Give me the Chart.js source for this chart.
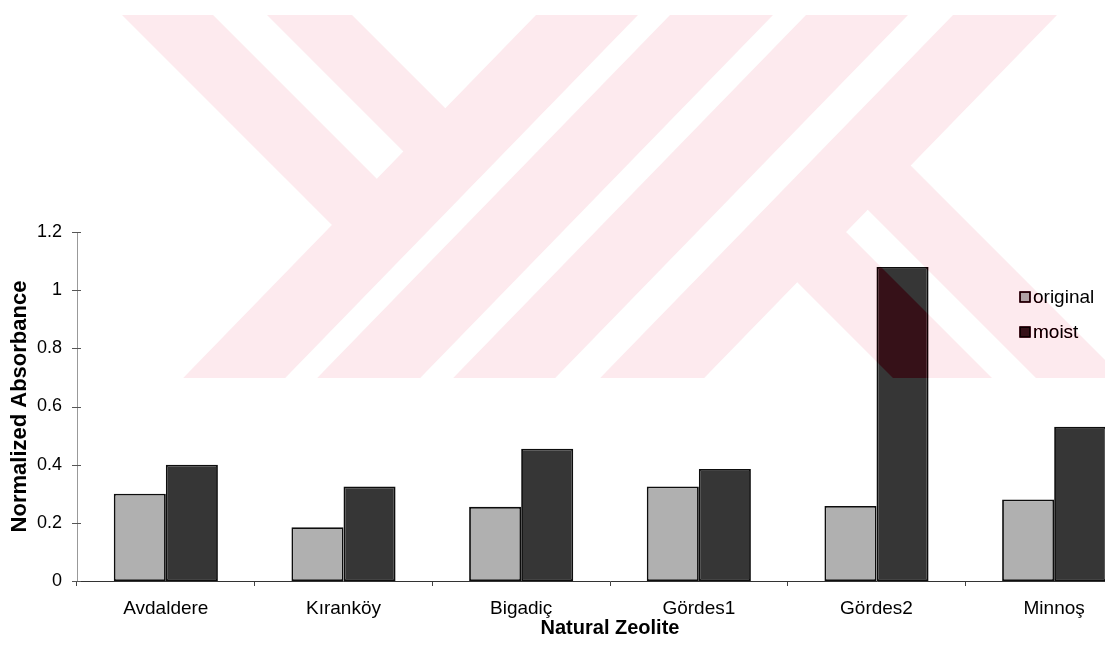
<!DOCTYPE html>
<html>
<head>
<meta charset="utf-8">
<title>Normalized Absorbance of Natural Zeolites</title>
<script src="https://cdn.jsdelivr.net/npm/chart.js@4.4.1/dist/chart.umd.min.js"></script>
<style>
  html, body { margin: 0; padding: 0; background: #fff; overflow: hidden; width: 1105px; height: 658px; }
  #wrap { position: absolute; left: 0; top: 0; width: 1150px; height: 658px; }
</style>
</head>
<body>
<div id="wrap"><canvas id="chart" width="1150" height="658"></canvas></div>
<script>
// ---- data ----
const categories = ['Avdaldere', 'Kıranköy', 'Bigadiç', 'Gördes1', 'Gördes2', 'Minnoş'];
const seriesNames = ['original', 'moist'];
const originalValues = [0.30, 0.185, 0.255, 0.325, 0.258, 0.28];
const moistValues = [0.40, 0.325, 0.455, 0.385, 1.08, 0.53];
const yTickValues = [0, 0.2, 0.4, 0.6, 0.8, 1, 1.2];
const yTickLabels = ['0', '0.2', '0.4', '0.6', '0.8', '1', '1.2'];
const xTitle = 'Natural Zeolite';
const yTitle = 'Normalized Absorbance';

// ---- styling ----
const FONT = '"Liberation Sans", Arial, Helvetica, sans-serif';
const fills = ['#b0b0b0', '#363636'];

// Pale background emblem: rising stripes with two arms on the left and two legs on the right
const MARK_TOP = 15, MARK_BOTTOM = 378, LEAN = 0.972;
const risingStripes = [[536, 638], [670, 773], [806, 908], [953, 1057]];
const leftArms = [[107, 198], [252, 337]];
const rightLegs = [[515, 614], [658, 745]];

function emblemPath(ctx) {
  const h = MARK_BOTTOM - MARK_TOP;
  ctx.beginPath();
  for (const [a, b] of risingStripes) {
    ctx.moveTo(a, MARK_TOP);
    ctx.lineTo(b, MARK_TOP);
    ctx.lineTo(b - LEAN * h, MARK_BOTTOM);
    ctx.lineTo(a - LEAN * h, MARK_BOTTOM);
    ctx.closePath();
  }
  // point where a falling edge (x - y = c) meets a rising stripe edge
  const meet = (edgeTop, c) => {
    const y = (edgeTop + LEAN * MARK_TOP - c) / (1 + LEAN);
    return [y + c, y];
  };
  const firstEdge = risingStripes[0][0];
  for (const [c0, c1] of leftArms) {
    const p0 = meet(firstEdge, c0), p1 = meet(firstEdge, c1);
    ctx.moveTo(c0 + MARK_TOP, MARK_TOP);
    ctx.lineTo(c1 + MARK_TOP, MARK_TOP);
    ctx.lineTo(p1[0], p1[1]);
    ctx.lineTo(p0[0], p0[1]);
    ctx.closePath();
  }
  const lastEdge = risingStripes[risingStripes.length - 1][1];
  for (const [c0, c1] of rightLegs) {
    const p0 = meet(lastEdge, c0), p1 = meet(lastEdge, c1);
    ctx.moveTo(p1[0], p1[1]);
    ctx.lineTo(c1 + MARK_BOTTOM, MARK_BOTTOM);
    ctx.lineTo(c0 + MARK_BOTTOM, MARK_BOTTOM);
    ctx.lineTo(p0[0], p0[1]);
    ctx.closePath();
  }
}

const paperEmblem = {
  id: 'paperEmblem',
  beforeDraw(chart) {
    const ctx = chart.ctx;
    ctx.save();
    ctx.fillStyle = '#ffffff';
    ctx.fillRect(0, 0, chart.width, chart.height);
    emblemPath(ctx);
    ctx.fillStyle = 'rgb(253,237,240)';
    ctx.fill();
    ctx.restore();
  },
  afterDraw(chart) {
    // tint whatever sits on top of the emblem
    const ctx = chart.ctx;
    ctx.save();
    ctx.globalCompositeOperation = 'color-burn';
    emblemPath(ctx);
    ctx.fillStyle = 'rgb(255,215,222)';
    ctx.fill();
    ctx.restore();
  }
};

// Small marks crossing the value axis at each tick
const crossTicks = {
  id: 'crossTicks',
  afterDraw(chart) {
    const s = chart.scales.y;
    const ctx = chart.ctx;
    ctx.save();
    ctx.strokeStyle = '#555';
    ctx.lineWidth = 1;
    for (const t of s.ticks) {
      const py = Math.round(s.getPixelForValue(t.value)) + 0.5;
      ctx.beginPath();
      ctx.moveTo(s.right - 5, py);
      ctx.lineTo(s.right + 4, py);
      ctx.stroke();
    }
    ctx.restore();
  }
};

// Legend box at the right of the plot
const sideLegend = {
  id: 'sideLegend',
  afterDraw(chart) {
    const ctx = chart.ctx;
    const x = 1020, y0 = 297, gap = 35, box = 10;
    ctx.save();
    ctx.font = '19px ' + FONT;
    ctx.textBaseline = 'middle';
    ctx.textAlign = 'left';
    chart.data.datasets.forEach((ds, i) => {
      const y = y0 + i * gap;
      ctx.fillStyle = ds.backgroundColor;
      ctx.fillRect(x, y - box / 2, box, box);
      ctx.strokeStyle = '#000';
      ctx.lineWidth = 1.5;
      ctx.strokeRect(x, y - box / 2, box, box);
      ctx.fillStyle = '#000';
      ctx.fillText(ds.label, x + 13, y + 1);
    });
    ctx.restore();
  }
};

new Chart(document.getElementById('chart'), {
  type: 'bar',
  data: {
    labels: categories,
    datasets: [
      { label: seriesNames[0], data: originalValues, backgroundColor: fills[0],
        borderColor: '#0d0d0d', borderWidth: 1.8, borderSkipped: false },
      { label: seriesNames[1], data: moistValues, backgroundColor: fills[1],
        borderColor: '#0d0d0d', borderWidth: 1.8, borderSkipped: false }
    ]
  },
  options: {
    responsive: false,
    animation: false,
    devicePixelRatio: 1,
    datasets: { bar: { categoryPercentage: 0.586, barPercentage: 1.0 } },
    layout: { padding: { top: 232, right: 7, left: 0, bottom: 0 } },
    plugins: { legend: { display: false }, tooltip: { enabled: false }, title: { display: false } },
    scales: {
      x: {
        grid: { display: true, drawOnChartArea: false, drawTicks: true, tickLength: 5, color: '#444', offset: true },
        border: { display: true, color: '#333', width: 1 },
        ticks: { font: { family: FONT, size: 19 }, color: '#000', padding: 11, maxRotation: 0, autoSkip: false },
        title: { display: true, text: xTitle, color: '#000',
                 font: { family: FONT, size: 20, weight: 'bold' }, padding: { top: 0, bottom: 18 } },
        afterFit(s) { s.height = 77; }
      },
      y: {
        min: 0, max: 1.2,
        afterBuildTicks(s) { s.ticks = yTickValues.map(v => ({ value: v })); },
        grid: { display: false, drawTicks: false },
        border: { display: true, color: '#999', width: 1, dash: [1, 3] },
        ticks: { font: { family: FONT, size: 18 }, color: '#000', padding: 15,
                 callback: (v) => yTickLabels[yTickValues.indexOf(v)] ?? '' },
        title: { display: true, text: yTitle, color: '#000',
                 font: { family: FONT, size: 22, weight: 'bold' }, padding: { top: 7, bottom: 0 } },
        afterFit(s) { s.width = 77; }
      }
    }
  },
  plugins: [crossTicks, sideLegend, paperEmblem]
});
</script>
</body>
</html>
